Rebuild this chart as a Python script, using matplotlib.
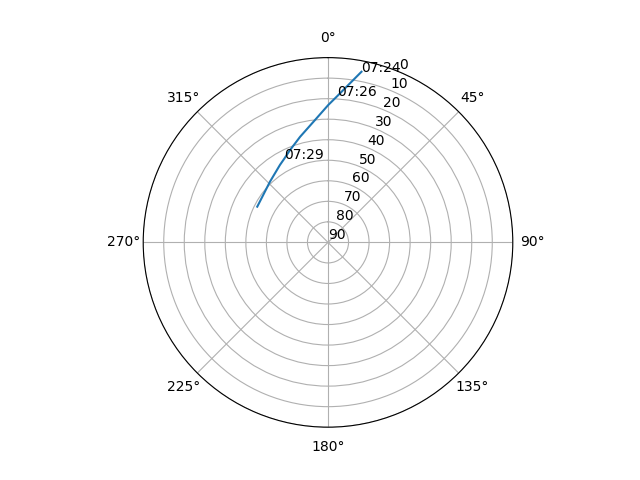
import numpy as np
import matplotlib
matplotlib.use("Agg")
import matplotlib.pyplot as plt

# satellite pass track (azimuth deg, elevation deg)
azimuth = [11.1, 3.7, 0.1, 353.9, 345.2, 337.6, 332.2, 328.2, 316.3, 306.2, 296.8]
elevation = [5.3, 18.5, 23.1, 30.1, 36.8, 41.4, 44.1, 45.6, 49.1, 50.9, 51.4]
time_labels = ["07:24", "07:26", "", "", "", "", "07:29", "", "", "", ""]
r_ticks = [0, 10, 20, 30, 40, 50, 60, 70, 80, 90]

fig = plt.figure(figsize=(6.4, 4.8), dpi=100)
ax = fig.add_subplot(111, projection="polar")
ax.set_theta_zero_location("N")
ax.set_theta_direction(-1)

theta = np.unwrap(np.radians(azimuth))
ax.plot(theta, elevation)
for t, r, lab in zip(theta, elevation, time_labels):
    if lab:
        ax.text(t, r, lab)

ax.set_ylim(90, 0)
ax.set_yticks(r_ticks)

fig.savefig("out.png")
